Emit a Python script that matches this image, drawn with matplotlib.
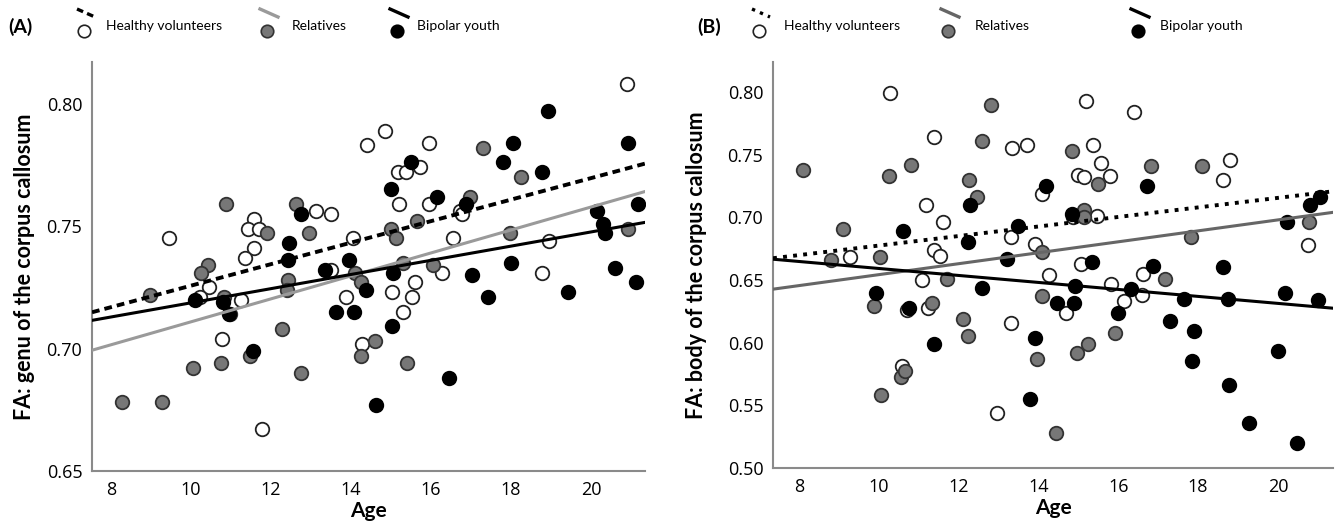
import numpy as np
import matplotlib.pyplot as plt
from matplotlib.lines import Line2D

plt.rcParams['font.family'] = ['Open Sans', 'DejaVu Sans']

# ---- Panel A: genu of the corpus callosum ----
a_hv_age = [14.40, 14.85, 13.13, 13.50, 11.58, 11.43, 11.70, 9.45, 14.05, 11.58, 11.35, 13.50,
            20.90, 15.95, 15.18, 15.38, 15.73, 15.20, 15.95, 16.73, 16.78, 16.55, 18.95, 16.28,
            18.78, 10.45, 10.23, 11.25, 13.88, 10.78, 14.28, 11.78, 15.03, 15.60, 15.53, 15.30]
a_hv_fa = [0.783, 0.789, 0.756, 0.755, 0.753, 0.749, 0.749, 0.745, 0.745, 0.741, 0.737, 0.732,
           0.808, 0.784, 0.772, 0.772, 0.774, 0.759, 0.759, 0.756, 0.755, 0.745, 0.744, 0.731,
           0.731, 0.725, 0.721, 0.720, 0.721, 0.704, 0.702, 0.667, 0.723, 0.727, 0.721, 0.715]

a_rel_age = [10.88, 12.63, 11.90, 12.95, 10.43, 10.25, 14.10, 12.43, 17.30, 18.25, 16.98, 15.00,
             15.65, 15.13, 17.98, 20.93, 15.30, 16.05, 14.25, 8.98, 10.83, 10.98, 12.40, 12.28,
             14.60, 14.25, 11.48, 10.05, 10.75, 12.75, 8.28, 9.28, 15.40]
a_rel_fa = [0.759, 0.759, 0.747, 0.747, 0.734, 0.731, 0.731, 0.728, 0.782, 0.770, 0.762, 0.749,
            0.752, 0.745, 0.747, 0.749, 0.735, 0.734, 0.727, 0.722, 0.721, 0.714, 0.724, 0.708,
            0.703, 0.697, 0.697, 0.692, 0.694, 0.690, 0.678, 0.678, 0.694]

a_bp_age = [12.75, 12.45, 12.43, 13.35, 13.95, 18.93, 18.05, 20.93, 17.80, 15.50, 18.78, 15.00,
            16.15, 16.88, 20.15, 21.18, 20.30, 20.35, 15.05, 17.03, 18.00, 20.60, 21.13, 14.38,
            10.10, 10.80, 10.95, 13.63, 14.08, 11.55, 15.03, 16.45, 14.63, 17.43, 19.43]
a_bp_fa = [0.755, 0.743, 0.736, 0.732, 0.736, 0.797, 0.784, 0.784, 0.776, 0.776, 0.772, 0.765,
           0.762, 0.759, 0.756, 0.759, 0.751, 0.747, 0.731, 0.730, 0.735, 0.733, 0.727, 0.724,
           0.720, 0.719, 0.714, 0.715, 0.715, 0.699, 0.709, 0.688, 0.677, 0.721, 0.723]

a_fit_age = [7.53, 21.35]
a_fit_hv = [0.7148, 0.7755]
a_fit_rel = [0.6993, 0.7641]
a_fit_bp = [0.7115, 0.7515]

# ---- Panel B: body of the corpus callosum ----
b_hv_age = [10.28, 11.38, 13.34, 13.71, 14.09, 11.18, 11.61, 13.31, 13.91, 11.38, 11.53, 9.28,
            14.27, 11.08, 15.19, 16.40, 15.37, 15.57, 18.80, 18.63, 14.99, 15.14, 15.79, 14.87,
            15.47, 20.76, 15.07, 16.62, 14.69, 15.82, 16.15, 16.60, 11.23, 10.71, 13.31, 10.58,
            12.96]
b_hv_fa = [0.799, 0.764, 0.755, 0.758, 0.719, 0.710, 0.696, 0.684, 0.679, 0.674, 0.669, 0.668,
           0.654, 0.650, 0.793, 0.784, 0.758, 0.743, 0.746, 0.730, 0.734, 0.732, 0.733, 0.700,
           0.701, 0.678, 0.663, 0.655, 0.624, 0.647, 0.633, 0.638, 0.628, 0.626, 0.616, 0.581,
           0.544]

b_rel_age = [12.81, 12.59, 8.10, 10.26, 10.81, 12.26, 12.46, 9.10, 14.09, 8.80, 10.03, 11.71,
             14.84, 16.82, 18.10, 15.49, 15.14, 15.14, 20.78, 17.82, 17.17, 9.88, 11.33, 14.09,
             12.11, 12.24, 13.96, 10.56, 10.66, 10.06, 14.44, 15.92, 15.24, 14.97]
b_rel_fa = [0.790, 0.761, 0.738, 0.733, 0.742, 0.730, 0.716, 0.691, 0.672, 0.666, 0.668, 0.651,
            0.753, 0.741, 0.741, 0.727, 0.706, 0.700, 0.696, 0.684, 0.651, 0.629, 0.632, 0.637,
            0.619, 0.605, 0.587, 0.573, 0.577, 0.558, 0.528, 0.608, 0.599, 0.592]

b_bp_age = [14.19, 12.29, 10.61, 13.49, 12.24, 13.21, 16.72, 14.84, 21.06, 20.81, 20.23, 15.34,
            16.87, 18.63, 12.59, 9.93, 10.76, 14.47, 11.38, 13.91, 13.79, 14.89, 14.92, 16.32,
            16.00, 17.30, 17.65, 18.75, 20.18, 21.01, 17.90, 17.85, 20.00, 18.78, 19.28, 20.48]
b_bp_fa = [0.725, 0.710, 0.689, 0.693, 0.680, 0.667, 0.725, 0.703, 0.716, 0.710, 0.696, 0.664,
           0.661, 0.660, 0.644, 0.640, 0.628, 0.632, 0.599, 0.604, 0.555, 0.632, 0.645, 0.643,
           0.624, 0.617, 0.635, 0.635, 0.640, 0.634, 0.609, 0.585, 0.593, 0.566, 0.536, 0.520]

b_fit_age = [7.35, 21.38]
b_fit_hv = [0.6674, 0.7208]
b_fit_rel = [0.6427, 0.7040]
b_fit_bp = [0.6666, 0.6275]

groups = ['Healthy volunteers', 'Relatives', 'Bipolar youth']
face = ['white', '#777777', 'black']
edge = ['#222222', '#333333', 'black']

fig = plt.figure(figsize=(13.37, 5.27), dpi=100)
axA = fig.add_axes([0.0688, 0.1063, 0.4136, 0.7761])
axB = fig.add_axes([0.5782, 0.1120, 0.4188, 0.7704])


def panel(ax, pts, fit_x, fits, hv_style, rel_col, ylim, yticks, ylabel, lab_x):
    for (x, y), fc, ec in zip(pts, face, edge):
        ax.scatter(x, y, s=95, facecolor=fc, edgecolor=ec, linewidth=1.3, zorder=2)
    ax.plot(fit_x, fits[0], color='black', lw=2.8, ls=hv_style, zorder=3)
    ax.plot(fit_x, fits[1], color=rel_col, lw=2.2, zorder=3)
    ax.plot(fit_x, fits[2], color='black', lw=2.2, zorder=3)
    ax.set_xlim(fit_x)
    ax.set_ylim(ylim)
    ax.set_yticks(yticks)
    ax.set_yticklabels(['%.2f' % t for t in yticks])
    ax.set_xticks([8, 10, 12, 14, 16, 18, 20])
    ax.tick_params(length=0, labelsize=13, pad=7)
    for s in ['top', 'right']:
        ax.spines[s].set_visible(False)
    for s in ['left', 'bottom']:
        ax.spines[s].set_color('#8a8a8a')
        ax.spines[s].set_linewidth(1.5)
    ax.set_xlabel('Age', fontsize=15, fontweight='bold', family='Lato', labelpad=2)
    ax.set_ylabel(ylabel, fontsize=15.5, fontweight='bold', family='Lato')
    ax.yaxis.set_label_coords(lab_x, 0.5)


panel(axA, [(a_hv_age, a_hv_fa), (a_rel_age, a_rel_fa), (a_bp_age, a_bp_fa)],
      a_fit_age, [a_fit_hv, a_fit_rel, a_fit_bp], (0, (2, 1.3)), '#9a9a9a',
      (0.65, 0.817), [0.65, 0.70, 0.75, 0.80], 'FA: genu of the corpus callosum', -0.103)
panel(axB, [(b_hv_age, b_hv_fa), (b_rel_age, b_rel_fa), (b_bp_age, b_bp_fa)],
      b_fit_age, [b_fit_hv, b_fit_rel, b_fit_bp], (0, (1, 1.6)), '#666666',
      (0.50, 0.824), [0.50, 0.55, 0.60, 0.65, 0.70, 0.75, 0.80],
      'FA: body of the corpus callosum', -0.118)


# legend strips above each panel (figure pixel coords)
def legend(tag, tag_x, hv_style, rel_col, text_x, line_x):
    W, H = 1337.0, 527.0
    fig.text(tag_x / W, 1 - 27 / H, tag, fontsize=14, fontweight='bold', family='Lato',
             va='center', ha='left')
    styles = [hv_style, '-', '-']
    cols = ['black', rel_col, 'black']
    for i in range(3):
        lx = line_x[i]
        fig.add_artist(Line2D([lx / W, (lx + 18) / W], [1 - 9 / H, 1 - 17 / H],
                              color=cols[i], lw=2.4, ls=styles[i]))
        fig.add_artist(Line2D([(lx + 7) / W], [1 - 31 / H], marker='o', ms=9,
                              mfc=face[i], mec=edge[i], mew=1.2, ls='none'))
        fig.text(text_x[i] / W, 1 - 26 / H, groups[i], fontsize=10, family='Lato',
                 va='center', ha='left')


legend('(A)', 8, (0, (2, 1.3)), '#9a9a9a', [106, 292, 417], [77, 260, 390])
legend('(B)', 697, (0, (1, 1.6)), '#666666', [784, 975, 1160], [752, 941, 1131])

fig.savefig('out.png', dpi=100)
